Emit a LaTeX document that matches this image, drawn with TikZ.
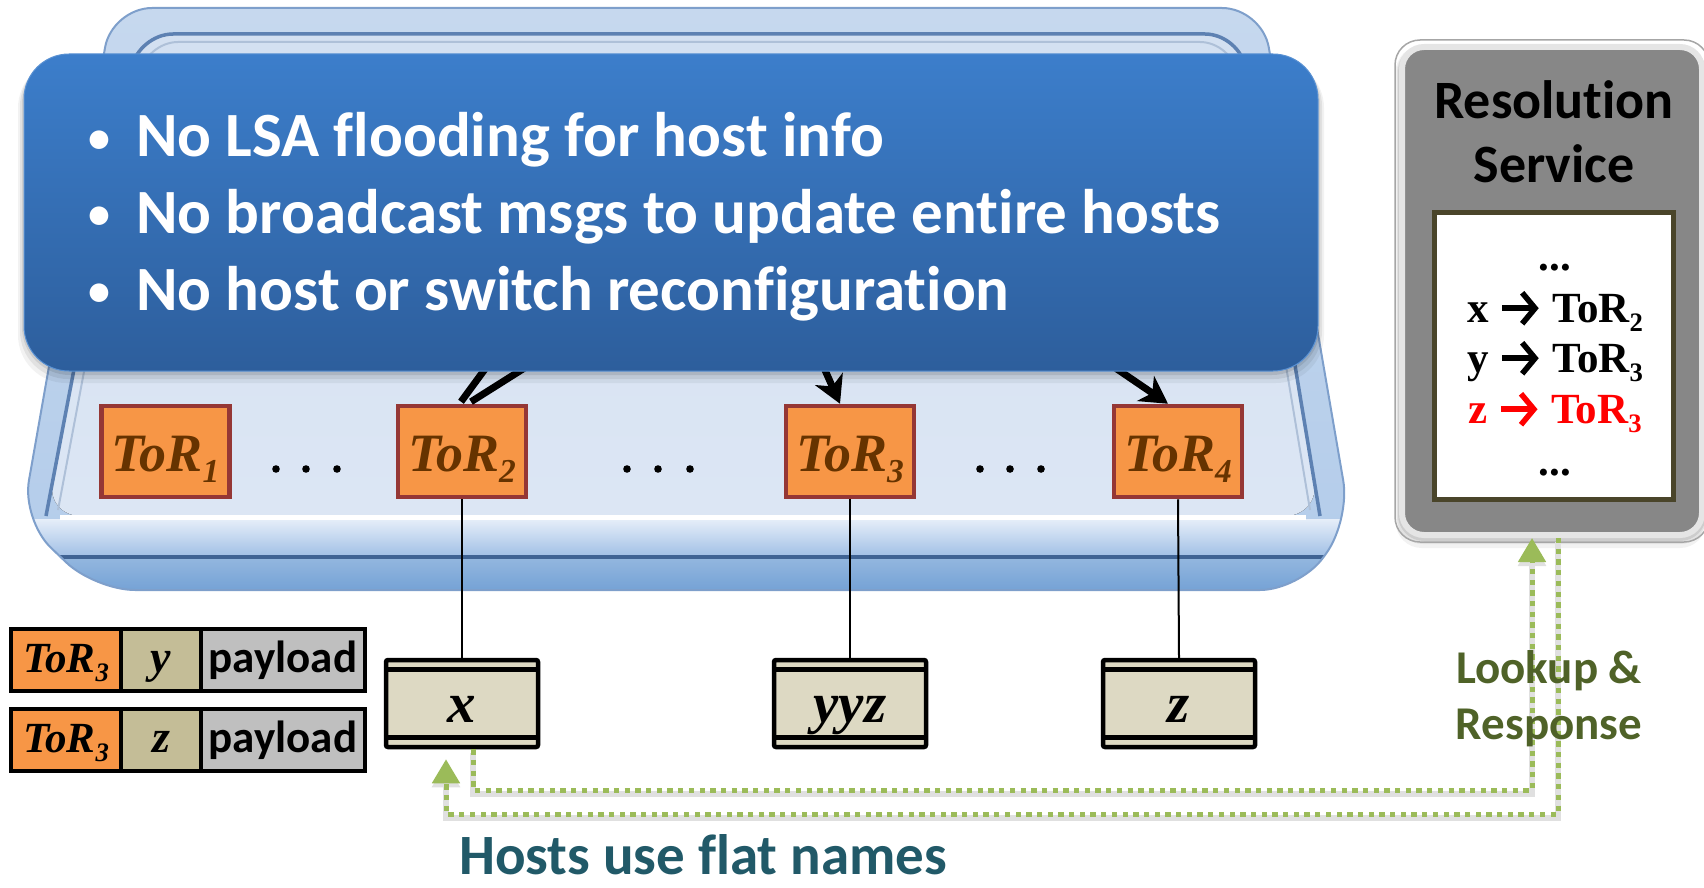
\documentclass[tikz,border=0pt]{standalone}
\usepackage{fontspec}
\setmainfont{Carlito}[Ligatures={NoCommon,NoContextual}]
\newfontfamily\rmserif{Liberation Serif}
\usetikzlibrary{arrows.meta,calc}

\definecolor{torfill}{HTML}{F79646}
\definecolor{torline}{HTML}{953735}
\definecolor{tortext}{HTML}{663300}
\definecolor{hostfill}{HTML}{DDD9C3}
\definecolor{namefill}{HTML}{C4BD97}
\definecolor{payfill}{HTML}{BFBFBF}
\definecolor{lookgreen}{HTML}{9BBB59}
\definecolor{lookdark}{HTML}{4F6228}
\definecolor{hosttitle}{HTML}{215968}
\definecolor{boxtop}{HTML}{3C7ECB}
\definecolor{boxbot}{HTML}{2D5E9C}
\definecolor{resgray}{HTML}{878787}
\definecolor{resline}{HTML}{4A452A}
\definecolor{rimtop}{HTML}{C6D8EE}
\definecolor{rimbot}{HTML}{B3CCEA}
\definecolor{facetop}{HTML}{D3E0F1}
\definecolor{facebot}{HTML}{DCE6F4}
\definecolor{faceedge}{HTML}{5D81B2}
\definecolor{bandlight}{HTML}{E6EEF9}
\definecolor{bandmid}{HTML}{A3C1E6}
\definecolor{banddark}{HTML}{73A1D5}
\definecolor{bandline}{HTML}{3F6394}
\definecolor{trayedge}{HTML}{7E9FCB}

\newcommand\fsz[1]{\fontsize{#1}{#1}\selectfont}
\newcommand\lowsub[1]{\raisebox{-0.22em}{\scalebox{0.62}{#1}}}
\newcommand\rarr[1][black]{\tikz[baseline=-0.32em]\draw[#1,line width=0.13em,
  -{Straight Barb[length=0.3em,width=0.72em,line width=0.13em]}] (0pt,0pt) -- (0.85em,0pt);}

\tikzset{
  torbox/.style={draw=torline, fill=torfill, line width=4.5, minimum width=128,
    minimum height=91, inner sep=0pt, text height=39pt, text depth=0pt,
    font=\fsz{54}\rmserif\bfseries\itshape, text=tortext},
  hostbox/.style={draw=black, fill=hostfill, line width=4.5, minimum width=152,
    minimum height=87, rounded corners=2, inner sep=0pt},
  hostname/.style={anchor=base, font=\fsz{57}\rmserif\bfseries\itshape},
  cell/.style={draw=black, line width=4, minimum height=62, inner sep=0pt,
    text height=24pt, text depth=0pt},
  torcell/.style={cell, fill=torfill, minimum width=110, font=\fsz{43}\rmserif\bfseries\itshape},
  namecell/.style={cell, fill=namefill, minimum width=80, font=\fsz{46}\rmserif\bfseries\itshape},
  paycell/.style={cell, fill=payfill, minimum width=164, font=\fsz{45}\bfseries},
  bullettext/.style={anchor=base west, text=white, font=\fsz{63}\bfseries, inner sep=0pt},
  bulletmark/.style={anchor=base, text=white, font=\fsz{44}\bfseries, inner sep=0pt},
  tabline/.style={anchor=base, font=\fsz{43}\rmserif\bfseries, inner sep=0pt},
  lookup/.style={draw=lookgreen, line width=5, dash pattern=on 5.3pt off 5.4pt,
    -{Triangle[length=24pt,width=27pt]},
    preaction={draw=black!12, line width=6, transform canvas={yshift=-4pt}}},
  feed/.style={line width=7},
  feedarrow/.style={line width=7, -{Stealth[length=27pt,width=30pt,inset=8pt]}},
  link/.style={line width=2},
}

\begin{document}
\begin{tikzpicture}[x=1pt, y=-1pt]
\useasboundingbox (0,0) rectangle (1704,888);

% ---- tray holding the ToR switches ----
\fill[top color=rimtop, bottom color=rimbot, rounded corners=40]
  (112,8) -- (1262,8) -- (1350,520) -- (1300,590) -- (95,590) -- (22,520) -- cycle;
\begin{scope}
  \clip[rounded corners=40]
    (112,8) -- (1262,8) -- (1350,520) -- (1300,590) -- (95,590) -- (22,520) -- cycle;
  \fill[top color=bandlight, bottom color=bandmid] (0,519) rectangle (1704,555);
  \fill[top color=banddark!75!white, bottom color=banddark] (0,555) rectangle (1704,592);
  \draw[bandline, line width=4] (0,557) -- (1704,557);
\end{scope}
\draw[trayedge, line width=2, rounded corners=40]
  (112,8) -- (1262,8) -- (1350,520) -- (1300,590) -- (95,590) -- (22,520) -- cycle;
\fill[top color=facetop, bottom color=facebot, rounded corners=35]
  (138,34) -- (1240,34) -- (1320,516) -- (46,516) -- cycle;
\draw[faceedge, line width=3.5, rounded corners=35]
  (46,516) -- (138,34) -- (1240,34) -- (1320,516);
\draw[faceedge!50!white, line width=2, rounded corners=32]
  (58,510) -- (146,42) -- (1232,42) -- (1310,510);
\draw[white, line width=5, rounded corners=35]
  (60,517) -- (1306,517);

% ---- ToR switches ----
\node[torbox] (tor1) at (165.5,451.5) {ToR\lowsub{1}};
\node[torbox] (tor2) at (462,451.5) {ToR\lowsub{2}};
\node[torbox] (tor3) at (850,451.5) {ToR\lowsub{3}};
\node[torbox] (tor4) at (1178,451.5) {ToR\lowsub{4}};

\foreach \dx in {276,306,337,627,658,690,980,1010,1041}
  \fill (\dx,469) circle (3.8);

% ---- uplinks into the ToRs ----
\coordinate (up2a) at (499,350);
\coordinate (up2b) at (553,350);
\coordinate (up3) at (816,350);
\coordinate (up4) at (1089,350);
\draw[feed] (up2a) -- ([xshift=-1pt,yshift=2pt]tor2.north);
\draw[feed] (up2b) -- ([xshift=9pt,yshift=2pt]tor2.north);
\draw[feedarrow] (up3) -- ([xshift=-10pt]tor3.north);
\draw[feedarrow] (up4) -- ([xshift=-10pt]tor4.north);

% ---- callout with the three points ----
\foreach \s/\op in {12/0.05,8/0.07,4/0.09}
  \fill[black, opacity=\op, rounded corners=48] (24-\s/2,54+\s/2) rectangle (1318+\s/2,371+\s);
\node[draw=boxtop!85!white, line width=1, top color=boxtop, bottom color=boxbot,
  rounded corners=45, minimum width=1294, minimum height=317, inner sep=0pt]
  (msg) at (671,212.5) {};
\node[bulletmark] (m1) at (99,152) {•};
\node[bulletmark] (m2) at (99,228) {•};
\node[bulletmark] (m3) at (99,305) {•};
\node[bullettext] (l1) at (136,157) {No LSA flooding for host info};
\node[bullettext] (l2) at (136,233) {No broadcast msgs to update entire hosts};
\node[bullettext] (l3) at (136,310) {No host or switch reconfiguration};

% ---- hosts ----
\node[hostbox] (hx) at (462,703.5) {};
\node[hostbox] (hy) at (850,703.5) {};
\node[hostbox] (hz) at (1179,703.5) {};
\foreach \h in {hx,hy,hz}{
  \draw[line width=5] ([yshift=-12pt]\h.north west) -- ([yshift=-12pt]\h.north east);
  \draw[line width=5] ([yshift=12pt]\h.south west) -- ([yshift=12pt]\h.south east);
}
\node[hostname] (hxt) at (462,722) {x};
\node[hostname] (hyt) at (850,722) {yyz};
\node[hostname] (hzt) at (1179,722) {z};

\draw[link] (tor2.south) -- (hx.north);
\draw[link] (tor3.south) -- (hy.north);
\draw[link] (tor4.south) -- (hz.north);

% ---- encapsulated packets ----
\node[torcell] (p1a) at (66,660) {ToR\lowsub{3}};
\node[namecell] (p1b) at (161,660) {y};
\node[paycell] (p1c) at (283,660) {payload};
\node[torcell] (p2a) at (66,740) {ToR\lowsub{3}};
\node[namecell] (p2b) at (161,740) {z};
\node[paycell] (p2c) at (283,740) {payload};

% ---- resolution service ----
\foreach \s/\op in {10/0.05,6/0.07,3/0.09}
  \fill[black, opacity=\op, rounded corners=26] (1399-\s/3,46) rectangle (1706,538+\s);
\node[fill=resgray, draw=black!10, line width=6, rounded corners=22,
  minimum width=300, minimum height=488, inner sep=0pt] (res) at (1552,291) {};
\draw[black!35, line width=1.5, rounded corners=25]
  ([shift={(-4,-4)}]res.north west) rectangle ([shift={(4,4)}]res.south east);
\node[anchor=base, font=\fsz{54}\bfseries, inner sep=0pt] (rt1) at (1554,118) {Resolution};
\node[anchor=base, font=\fsz{54}\bfseries, inner sep=0pt] (rt2) at (1554,182) {Service};
\node[draw=resline, fill=white, line width=5, minimum width=239, minimum height=287,
  inner sep=0pt] (tbl) at (1554,356) {};
\node[tabline] (e0) at (1555,270) {...};
\node[tabline] (e1) at (1555,322) {x \rarr{} ToR\lowsub{2}};
\node[tabline] (e2) at (1555,372) {y \rarr{} ToR\lowsub{3}};
\node[tabline, text=red] (e3) at (1555,423) {z \rarr[red] ToR\lowsub{3}};
\node[tabline] (e4) at (1555,475) {...};

% ---- lookup and response paths ----
\draw[lookup] ([xshift=11pt]hx.south) -- ++(0,41) -| ([xshift=-20pt]res.south);
\draw[lookup] ([xshift=6pt]res.south) -- ++(0,276) -| ([xshift=-16pt,yshift=-10pt]hx.south);

\node[anchor=base, font=\fsz{47}\bfseries, text=lookdark, inner sep=0pt] (lk1) at (1549,683) {Lookup \&};
\node[anchor=base, font=\fsz{47}\bfseries, text=lookdark, inner sep=0pt] (lk2) at (1549,739) {Response};

\node[anchor=base, font=\fsz{57}\bfseries, text=hosttitle, inner sep=0pt] (cap) at (703,874) {Hosts use flat names};
\end{tikzpicture}
\end{document}
